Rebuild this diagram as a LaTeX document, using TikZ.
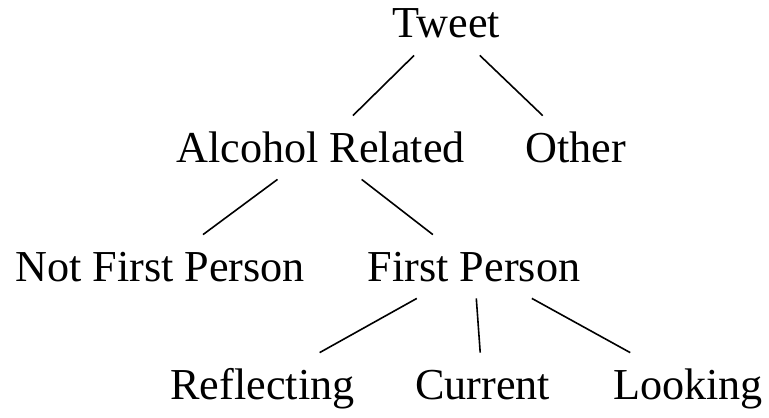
\documentclass[tikz,border=0pt]{standalone}
\usepackage{fontspec}
\setmainfont{Liberation Serif}
\begin{document}
\begin{tikzpicture}[x=0.5pt, y=-0.5pt,
    cat/.style={anchor=base, inner sep=0pt, text height=23pt, text depth=8.5pt,
        font=\fontsize{22.1}{26}\selectfont},
    branch/.style={line width=0.8pt}]
    \useasboundingbox (0,0) rectangle (769,417);

    % Root
    \node[cat] (tweet) at (446.5,38) {Tweet};

    % Level 1
    \node[cat] (alcohol) at (320.5,162) {Alcohol Related};
    \node[cat] (other) at (576,162) {Other};

    % Level 2
    \node[cat] (notfirst) at (160,281) {Not First Person};
    \node[cat] (first) at (474,281) {First Person};

    % Level 3
    \node[cat] (reflecting) at (262.5,399) {Reflecting};
    \node[cat] (current) at (482.5,399) {Current};
    \node[cat] (looking) at (688,399) {Looking};

    % Branches
    \draw[branch] (tweet) -- (alcohol);
    \draw[branch] (tweet) -- (other);
    \draw[branch] (alcohol) -- (notfirst);
    \draw[branch] (alcohol) -- (first);
    \draw[branch] (first) -- (reflecting);
    \draw[branch] (first) -- (current);
    \draw[branch] (first) -- (looking);
\end{tikzpicture}
\end{document}
